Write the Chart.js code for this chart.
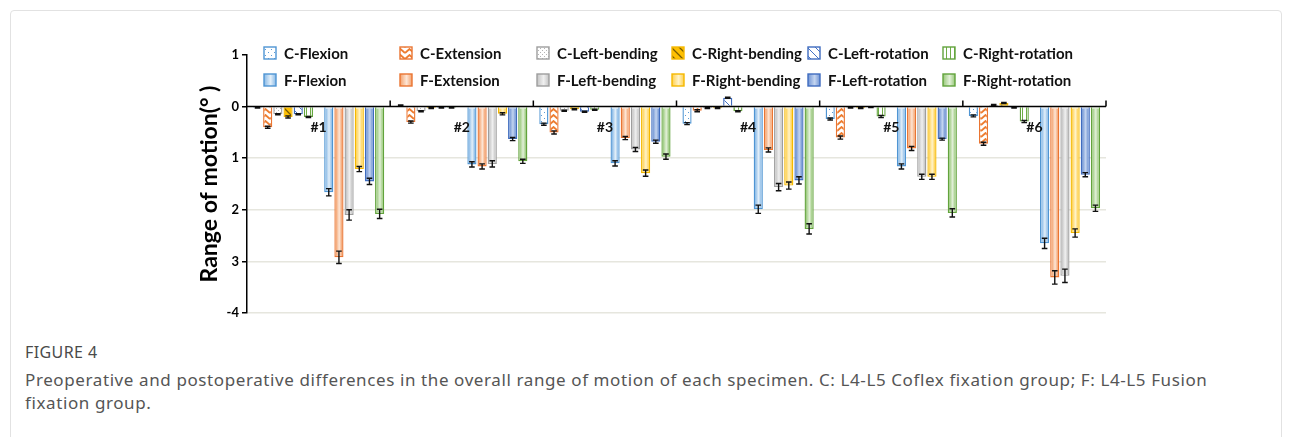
<!DOCTYPE html>
<html>
<head>
<meta charset="utf-8">
<script src="https://cdn.jsdelivr.net/npm/chart.js@4.4.1/dist/chart.umd.min.js"></script>
<style>
  html, body { margin: 0; padding: 0; background: #fff; }
  body { width: 1292px; height: 437px; position: relative; overflow: hidden; font-family: "Noto Sans", sans-serif; }
  #card { position: absolute; left: 10px; top: 10px; width: 1270px; height: 440px; border: 1px solid #e2e2e2; border-radius: 4px; }
  #wrap { position: absolute; left: 0; top: 0; width: 1292px; height: 330px; }
  .fig { position: absolute; left: 25px; top: 341px; font-size: 16px; color: #4a4a4a; letter-spacing: 0.4px; }
  .cap { position: absolute; left: 25px; top: 368px; width: 1230px; font-size: 17px; letter-spacing: 0.6px; line-height: 23px; color: #555; }
</style>
</head>
<body>
<div id="card"></div>
<div id="wrap"><canvas id="rom" width="1292" height="330"></canvas></div>
<div class="fig">FIGURE 4</div>
<div class="cap">Preoperative and postoperative differences in the overall range of motion of each specimen. C: L4-L5 Coflex fixation group; F: L4-L5 Fusion fixation group.</div>
<script>
// Specimens
const categories = ['#1', '#2', '#3', '#4', '#5', '#6'];

// Coflex group (C) – change in range of motion per specimen
const cFlexion       = [-0.02,  0.02, -0.34, -0.33, -0.24, -0.18];
const cExtension     = [-0.40, -0.30, -0.50, -0.08, -0.60, -0.72];
const cLeftBending   = [-0.15, -0.09, -0.08, -0.03, -0.02,  0.03];
const cRightBending  = [-0.20, -0.03, -0.05, -0.03, -0.03,  0.07];
const cLeftRotation  = [-0.15, -0.02, -0.10,  0.17, -0.01, -0.02];
const cRightRotation = [-0.20, -0.02, -0.06, -0.09, -0.19, -0.29];

// Fusion group (F)
const fFlexion       = [-1.66, -1.12, -1.10, -1.99, -1.16, -2.65];
const fExtension     = [-2.92, -1.16, -0.61, -0.84, -0.81, -3.31];
const fLeftBending   = [-2.10, -1.11, -0.83, -1.56, -1.36, -3.28];
const fRightBending  = [-1.21, -0.14, -1.29, -1.53, -1.36, -2.45];
const fLeftRotation  = [-1.45, -0.63, -0.68, -1.43, -0.63, -1.32];
const fRightRotation = [-2.08, -1.06, -0.97, -2.37, -2.06, -1.97];

// Standard deviations
const cFlexionErr       = [0.01, 0.01, 0.02, 0.02, 0.02, 0.02];
const cExtensionErr     = [0.02, 0.02, 0.03, 0.02, 0.03, 0.03];
const cLeftBendingErr   = [0.01, 0.01, 0.01, 0.01, 0.01, 0.01];
const cRightBendingErr  = [0.02, 0.01, 0.01, 0.01, 0.01, 0.01];
const cLeftRotationErr  = [0.01, 0.01, 0.01, 0.01, 0.01, 0.01];
const cRightRotationErr = [0.01, 0.01, 0.01, 0.01, 0.02, 0.02];
const fFlexionErr       = [0.07, 0.05, 0.05, 0.08, 0.05, 0.10];
const fExtensionErr     = [0.12, 0.05, 0.03, 0.04, 0.04, 0.13];
const fLeftBendingErr   = [0.10, 0.06, 0.04, 0.07, 0.05, 0.13];
const fRightBendingErr  = [0.05, 0.02, 0.06, 0.07, 0.05, 0.08];
const fLeftRotationErr  = [0.06, 0.03, 0.03, 0.07, 0.02, 0.04];
const fRightRotationErr = [0.09, 0.04, 0.05, 0.10, 0.08, 0.06];

// Empty slot between the two groups, where the specimen label sits
const gapSlot = [0, 0, 0, 0, 0, 0];

// Y axis
const yTickValues = [1, 0, -1, -2, -3, -4];
const yTickLabels = ['1', '0', '1', '2', '3', '-4'];

const palette = {
  flex:  { line: '#4f95d3', edge: '#86b8e6', mid: '#e3eff9' },
  ext:   { line: '#ea7532', edge: '#f3a16c', mid: '#fde6d6' },
  lbend: { line: '#9e9e9e', edge: '#c3c3c3', mid: '#f0f0f0' },
  rbend: { line: '#f5b800', edge: '#ffd04d', mid: '#fff3c9' },
  lrot:  { line: '#3f6cbf', edge: '#6f93d3', mid: '#c4d5f0' },
  rrot:  { line: '#62a33c', edge: '#98c87a', mid: '#e2f0d8' }
};

function tile(w, h, paint) {
  const c = document.createElement('canvas');
  c.width = w; c.height = h;
  const g = c.getContext('2d');
  paint(g, w, h);
  return g.createPattern(c, 'repeat');
}

const patterns = {
  flex: tile(6, 6, (g) => { g.fillStyle = '#fff'; g.fillRect(0, 0, 6, 6); g.fillStyle = '#5b9bd5'; g.fillRect(1, 1, 1, 1); g.fillRect(4, 4, 1, 1); }),
  ext: tile(9, 6, (g) => {
    g.fillStyle = '#fff'; g.fillRect(0, 0, 9, 6);
    g.strokeStyle = '#ed7d31'; g.lineWidth = 1.8;
    g.beginPath(); g.moveTo(0, 5); g.lineTo(4.5, 1); g.lineTo(9, 5); g.stroke();
  }),
  lbend: tile(4, 4, (g) => { g.fillStyle = '#fff'; g.fillRect(0, 0, 4, 4); g.fillStyle = '#b5b5b5'; g.fillRect(0, 0, 1, 1); g.fillRect(2, 2, 1, 1); }),
  rbend: tile(8, 8, (g) => {
    g.fillStyle = '#ffc000'; g.fillRect(0, 0, 8, 8);
    g.strokeStyle = '#7a5c00'; g.lineWidth = 1.3;
    g.beginPath(); g.moveTo(-1, -1); g.lineTo(9, 9); g.moveTo(-1, 7); g.lineTo(1, 9); g.moveTo(7, -1); g.lineTo(9, 1); g.stroke();
  }),
  lrot: tile(8, 8, (g) => {
    g.fillStyle = '#fff'; g.fillRect(0, 0, 8, 8);
    g.strokeStyle = '#4472c4'; g.lineWidth = 1;
    g.beginPath(); g.moveTo(0, 0); g.lineTo(8, 8); g.stroke();
  }),
  rrot: tile(4, 2, (g) => { g.fillStyle = '#fff'; g.fillRect(0, 0, 4, 2); g.fillStyle = '#70ad47'; g.fillRect(2, 0, 1, 2); })
};

function cSet(label, key, data, errors) {
  return { label, data, errors, kind: 'C', key,
    backgroundColor: patterns[key], borderColor: palette[key].line, borderWidth: 1.4 };
}
function fSet(label, key, data, errors) {
  return { label, data, errors, kind: 'F', key,
    backgroundColor: palette[key].mid, borderColor: palette[key].line, borderWidth: 1.4 };
}

const datasets = [
  cSet('C-Flexion', 'flex', cFlexion, cFlexionErr),
  cSet('C-Extension', 'ext', cExtension, cExtensionErr),
  cSet('C-Left-bending', 'lbend', cLeftBending, cLeftBendingErr),
  cSet('C-Right-bending', 'rbend', cRightBending, cRightBendingErr),
  cSet('C-Left-rotation', 'lrot', cLeftRotation, cLeftRotationErr),
  cSet('C-Right-rotation', 'rrot', cRightRotation, cRightRotationErr),
  { label: '', data: gapSlot, kind: 'gap', backgroundColor: 'rgba(0,0,0,0)', borderWidth: 0 },
  fSet('F-Flexion', 'flex', fFlexion, fFlexionErr),
  fSet('F-Extension', 'ext', fExtension, fExtensionErr),
  fSet('F-Left-bending', 'lbend', fLeftBending, fLeftBendingErr),
  fSet('F-Right-bending', 'rbend', fRightBending, fRightBendingErr),
  fSet('F-Left-rotation', 'lrot', fLeftRotation, fLeftRotationErr),
  fSet('F-Right-rotation', 'rrot', fRightRotation, fRightRotationErr)
];

const boldFont = '"Lato", "Liberation Sans", sans-serif';

// Horizontal sheen on the fusion bars
const sheenPlugin = {
  id: 'sheen',
  afterDatasetDraw(chart, args) {
    const ds = chart.data.datasets[args.index];
    if (ds.kind !== 'F') return;
    const ctx = chart.ctx;
    const pal = palette[ds.key];
    args.meta.data.forEach((el) => {
      const p = el.getProps(['x', 'y', 'base', 'width'], true);
      const bw = 1.4;
      const l = p.x - p.width / 2 + bw, r = p.x + p.width / 2 - bw;
      const t = Math.min(p.y, p.base) + bw, b = Math.max(p.y, p.base) - bw;
      if (r <= l || b <= t) return;
      const g = ctx.createLinearGradient(l, 0, r, 0);
      g.addColorStop(0, pal.edge);
      g.addColorStop(0.55, pal.mid);
      g.addColorStop(1, pal.edge);
      ctx.save();
      ctx.fillStyle = g;
      ctx.fillRect(l, t, r - l, b - t);
      ctx.restore();
    });
  }
};

// Zero line, group separators, error bars, specimen labels and legend
const decorPlugin = {
  id: 'decor',
  afterDatasetsDraw(chart) {
    const ctx = chart.ctx;
    const xs = chart.scales.x, ys = chart.scales.y;
    const y0 = ys.getPixelForValue(0);

    // error bars
    ctx.save();
    ctx.strokeStyle = '#111';
    ctx.lineWidth = 1.4;
    chart.data.datasets.forEach((ds, di) => {
      if (!ds.errors) return;
      const meta = chart.getDatasetMeta(di);
      meta.data.forEach((el, i) => {
        const v = ds.data[i], e = ds.errors[i];
        const yA = ys.getPixelForValue(v - e), yB = ys.getPixelForValue(v + e);
        const x = el.x, cap = 2.8;
        ctx.beginPath();
        ctx.moveTo(x, yA); ctx.lineTo(x, yB);
        ctx.moveTo(x - cap, yA); ctx.lineTo(x + cap, yA);
        ctx.moveTo(x - cap, yB); ctx.lineTo(x + cap, yB);
        ctx.stroke();
      });
    });
    ctx.restore();

    // zero axis with group separator ticks
    ctx.save();
    ctx.strokeStyle = '#000';
    ctx.lineWidth = 1.5;
    ctx.beginPath();
    ctx.moveTo(xs.left, y0); ctx.lineTo(xs.right, y0);
    const step = (xs.right - xs.left) / categories.length;
    for (let i = 1; i <= categories.length; i++) {
      const bx = xs.left + step * i;
      ctx.moveTo(bx, y0); ctx.lineTo(bx, y0 - 6);
    }
    ctx.stroke();
    ctx.restore();

    // specimen labels in the gap slot
    const gapIndex = chart.data.datasets.findIndex(d => d.kind === 'gap');
    const gapMeta = chart.getDatasetMeta(gapIndex);
    ctx.save();
    ctx.fillStyle = '#111';
    ctx.font = 'bold 14px ' + boldFont;
    ctx.textAlign = 'center';
    ctx.textBaseline = 'middle';
    gapMeta.data.forEach((el, i) => {
      ctx.fillText(chart.data.labels[i], el.x, y0 + 21);
    });
    ctx.restore();

    // legend: coflex on the first row, fusion on the second
    const cols = [264, 400, 537, 672, 808, 943];
    const rows = { C: 53, F: 80 };
    ctx.save();
    ctx.font = 'bold 15px ' + boldFont;
    ctx.textBaseline = 'middle';
    const counters = { C: 0, F: 0 };
    chart.data.datasets.forEach((ds) => {
      if (ds.kind !== 'C' && ds.kind !== 'F') return;
      const col = cols[counters[ds.kind]++];
      const ry = rows[ds.kind];
      const bx = col, by = ry - 6, s = 12;
      const pal = palette[ds.key];
      if (ds.kind === 'F') {
        const g = ctx.createLinearGradient(bx, 0, bx + s, 0);
        g.addColorStop(0, pal.edge); g.addColorStop(0.55, pal.mid); g.addColorStop(1, pal.edge);
        ctx.fillStyle = g;
      } else {
        ctx.fillStyle = patterns[ds.key];
      }
      ctx.fillRect(bx, by, s, s);
      ctx.strokeStyle = pal.line;
      ctx.lineWidth = 1.4;
      ctx.strokeRect(bx, by, s, s);
      ctx.fillStyle = '#111';
      ctx.fillText(ds.label, bx + 20, ry + 1);
    });
    ctx.restore();
  }
};

new Chart(document.getElementById('rom'), {
  type: 'bar',
  data: { labels: categories, datasets },
  options: {
    responsive: false,
    devicePixelRatio: 1,
    animation: false,
    events: [],
    layout: { padding: { left: 0, right: 186, top: 55, bottom: 17 } },
    datasets: { bar: { categoryPercentage: 0.924, barPercentage: 0.9 } },
    plugins: { legend: { display: false }, tooltip: { enabled: false } },
    scales: {
      x: { type: 'category', display: false, offset: true },
      y: {
        min: -4, max: 1,
        afterFit(scale) { scale.width = 247; },
        afterBuildTicks(scale) { scale.ticks = yTickValues.map(v => ({ value: v })); },
        ticks: {
          color: '#000', padding: 3,
          font: { family: boldFont, size: 13, weight: 'bold' },
          callback: (v) => yTickLabels[yTickValues.indexOf(v)]
        },
        grid: {
          color: (c) => (c.tick && c.tick.value < 0) ? '#e6e6de' : 'rgba(0,0,0,0)',
          lineWidth: 1.5,
          tickColor: '#000', tickLength: 5, tickWidth: 1.5
        },
        border: { display: true, color: '#000', width: 1.5 },
        title: {
          display: true, text: 'Range of motion(° )', color: '#000',
          font: { family: boldFont, size: 23, weight: 'bold' },
          padding: { top: 196, bottom: 0 }
        }
      }
    }
  },
  plugins: [sheenPlugin, decorPlugin]
});
</script>
</body>
</html>
